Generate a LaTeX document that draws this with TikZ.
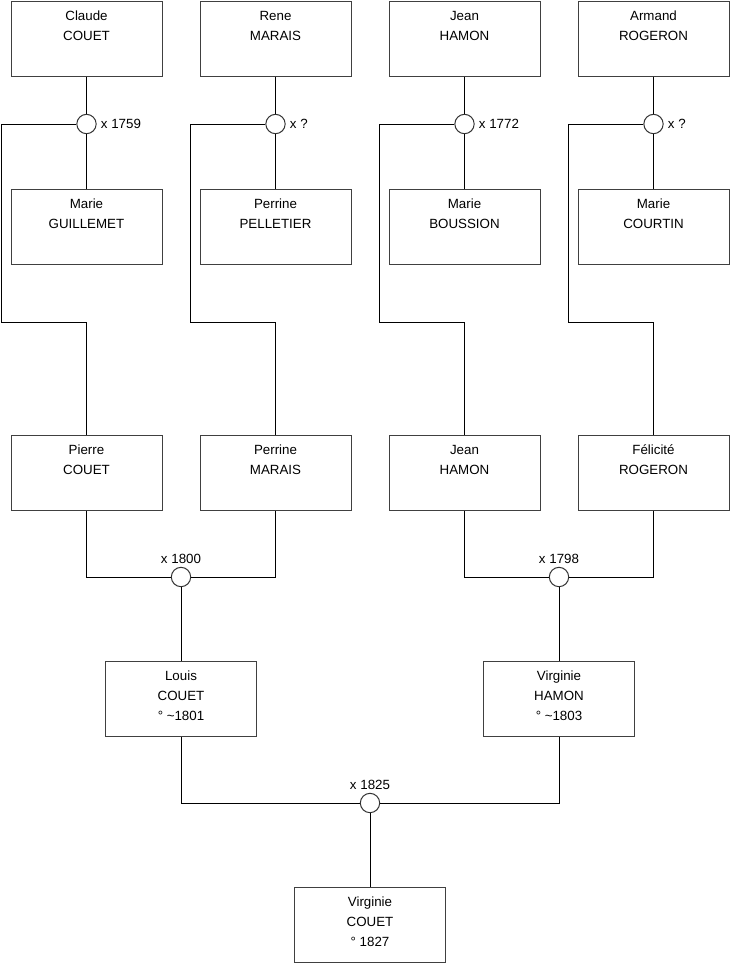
\documentclass[tikz,border=0pt]{standalone}
\usepackage{fontspec}
\setmainfont{Liberation Sans}
\usetikzlibrary{positioning}

\tikzset{
  person/.style={draw=black!75, line width=0.75pt, minimum width=113.25pt, minimum height=56.25pt,
    inner sep=0pt, align=center, font=\fontsize{10}{15}\selectfont,
    execute at begin node={\strut}, execute at end node={\rule[-4pt]{0pt}{4pt}}},
  wed/.style={draw=black!80, circle, fill=white, line width=0.75pt, minimum size=14.5pt, inner sep=0pt},
  note/.style={inner sep=0pt, font=\fontsize{10}{12}\selectfont},
  link/.style={line width=0.75pt, black}
}

\begin{document}
\begin{tikzpicture}[x=0.75pt, y=-0.75pt]
        \useasboundingbox (0,0) rectangle (740,975);

        % Grandparents
        \node[person] (claude) at (86.5,38.5) {Claude\\COUET\\ };
        \node[person] (rene) at (275.5,38.5) {Rene\\MARAIS\\ };
        \node[person] (jeanA) at (464.5,38.5) {Jean\\HAMON\\ };
        \node[person] (armand) at (653.5,38.5) {Armand\\ROGERON\\ };

        \node[person] (marieG) at (86.5,227) {Marie\\GUILLEMET\\ };
        \node[person] (perrineP) at (275.5,227) {Perrine\\PELLETIER\\ };
        \node[person] (marieB) at (464.5,227) {Marie\\BOUSSION\\ };
        \node[person] (marieC) at (653.5,227) {Marie\\COURTIN\\ };

        % Their marriages
        \node[wed] (w1) at (86.5,124) {};
        \node[wed] (w2) at (275.5,124) {};
        \node[wed] (w3) at (464.5,124) {};
        \node[wed] (w4) at (653.5,124) {};
        \node[note, right=3pt of w1] (d1) {x 1759};
        \node[note, right=3pt of w2] (d2) {x ?};
        \node[note, right=3pt of w3] (d3) {x 1772};
        \node[note, right=3pt of w4] (d4) {x ?};

        % Parents
        \node[person] (pierre) at (86.5,473) {Pierre\\COUET\\ };
        \node[person] (perrineM) at (275.5,473) {Perrine\\MARAIS\\ };
        \node[person] (jeanB) at (464.5,473) {Jean\\HAMON\\ };
        \node[person] (felicite) at (653.5,473) {Félicité\\ROGERON\\ };

        \node[wed] (w5) at (181,577) {};
        \node[wed] (w6) at (559,577) {};
        \node[note, above=2.5pt of w5] (d5) {x 1800};
        \node[note, above=2.5pt of w6] (d6) {x 1798};

        \node[person] (louis) at (181,699) {Louis\\COUET\\° \textasciitilde1801};
        \node[person] (virginieH) at (559,699) {Virginie\\HAMON\\° \textasciitilde1803};

        % Last couple
        \node[wed] (w7) at (370,803) {};
        \node[note, above=2.5pt of w7] (d7) {x 1825};
        \node[person] (virginieC) at (370,925) {Virginie\\COUET\\° 1827};

        % Bends of the lines to the children
        \coordinate (b1) at (1,322);
        \coordinate (b2) at (190,322);
        \coordinate (b3) at (379,322);
        \coordinate (b4) at (568,322);

        % Links
        \draw[link] (claude) -- (w1) -- (marieG);
        \draw[link] (rene) -- (w2) -- (perrineP);
        \draw[link] (jeanA) -- (w3) -- (marieB);
        \draw[link] (armand) -- (w4) -- (marieC);
        \draw[link] (w1.west) -| (b1) -| (pierre.north);
        \draw[link] (w2.west) -| (b2) -| (perrineM.north);
        \draw[link] (w3.west) -| (b3) -| (jeanB.north);
        \draw[link] (w4.west) -| (b4) -| (felicite.north);

        \draw[link] (pierre.south) |- (w5.west);
        \draw[link] (perrineM.south) |- (w5.east);
        \draw[link] (w5) -- (louis);
        \draw[link] (jeanB.south) |- (w6.west);
        \draw[link] (felicite.south) |- (w6.east);
        \draw[link] (w6) -- (virginieH);

        \draw[link] (louis.south) |- (w7.west);
        \draw[link] (virginieH.south) |- (w7.east);
        \draw[link] (w7) -- (virginieC);

    \end{tikzpicture}
\end{document}
